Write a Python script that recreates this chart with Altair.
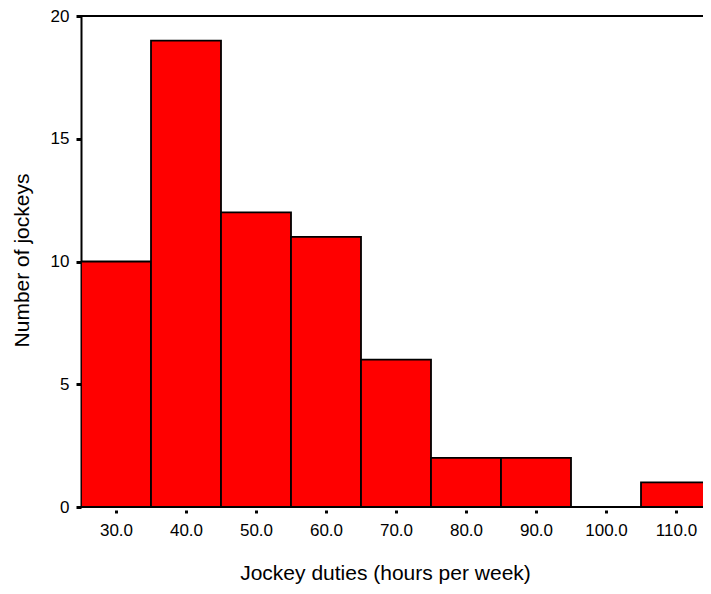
import altair as alt
import pandas as pd

bin_start = [25, 35, 45, 55, 65, 75, 85, 95, 105]
bin_end = [35, 45, 55, 65, 75, 85, 95, 105, 115]
counts = [10, 19, 12, 11, 6, 2, 2, 0, 1]
x_ticks = [30, 40, 50, 60, 70, 80, 90, 100, 110]
y_ticks = [0, 5, 10, 15, 20]

df = pd.DataFrame({"start": bin_start, "end": bin_end, "count": counts})
df = df[df["count"] > 0]

W = 622
H = 491
FONT = "Liberation Sans"

xscale = alt.Scale(domain=[25, 25 + W / 7.0], nice=False, zero=False)
yscale = alt.Scale(domain=[0, 20], nice=False)

bars = alt.Chart(df).mark_rect(
    fill="#ff0000", stroke="black", strokeWidth=1.8, clip=True
).encode(
    x=alt.X("start:Q", scale=xscale, axis=alt.Axis(
        values=x_ticks, format=".1f", title="Jockey duties (hours per week)",
        domain=False, offset=3, tickSize=3, tickWidth=3, tickColor="black",
        labelPadding=9, labelFont=FONT, labelFontSize=17, labelColor="black",
        grid=False, titleFont=FONT, titleFontSize=21, titleFontWeight="normal",
        titleColor="black", titleX=304, titleY=69, titleBaseline="alphabetic",
        titleAlign="center")),
    x2="end:Q",
    y=alt.Y("count:Q", scale=yscale, axis=alt.Axis(
        values=y_ticks, format="d", title="Number of jockeys",
        domain=True, domainColor="black", domainWidth=2,
        tickSize=5, tickWidth=3, tickColor="black",
        labelPadding=7, labelFont=FONT, labelFontSize=17, labelColor="black",
        grid=False, titleFont=FONT, titleFontSize=21, titleFontWeight="normal",
        titleColor="black", titleX=-53, titleY=244, titleAngle=-90,
        titleBaseline="alphabetic", titleAlign="center")),
    y2=alt.datum(0),
)

base_line = alt.Chart(pd.DataFrame({"v": [0]})).mark_rule(
    color="black", strokeWidth=2
).encode(y=alt.Y("v:Q", scale=yscale), x=alt.value(0), x2=alt.value(W))

top_line = alt.Chart(pd.DataFrame({"v": [20]})).mark_rule(
    color="black", strokeWidth=2
).encode(y=alt.Y("v:Q", scale=yscale), x=alt.value(0), x2=alt.value(W))

chart = alt.layer(bars, base_line, top_line).properties(
    width=W, height=H,
    autosize=alt.AutoSizeParams(type="none"),
    padding={"left": 73, "top": 8, "right": 0, "bottom": 79},
    background="white",
).configure_view(stroke=None)

chart.save("out.html", embed_options={"renderer": "svg", "actions": False})
